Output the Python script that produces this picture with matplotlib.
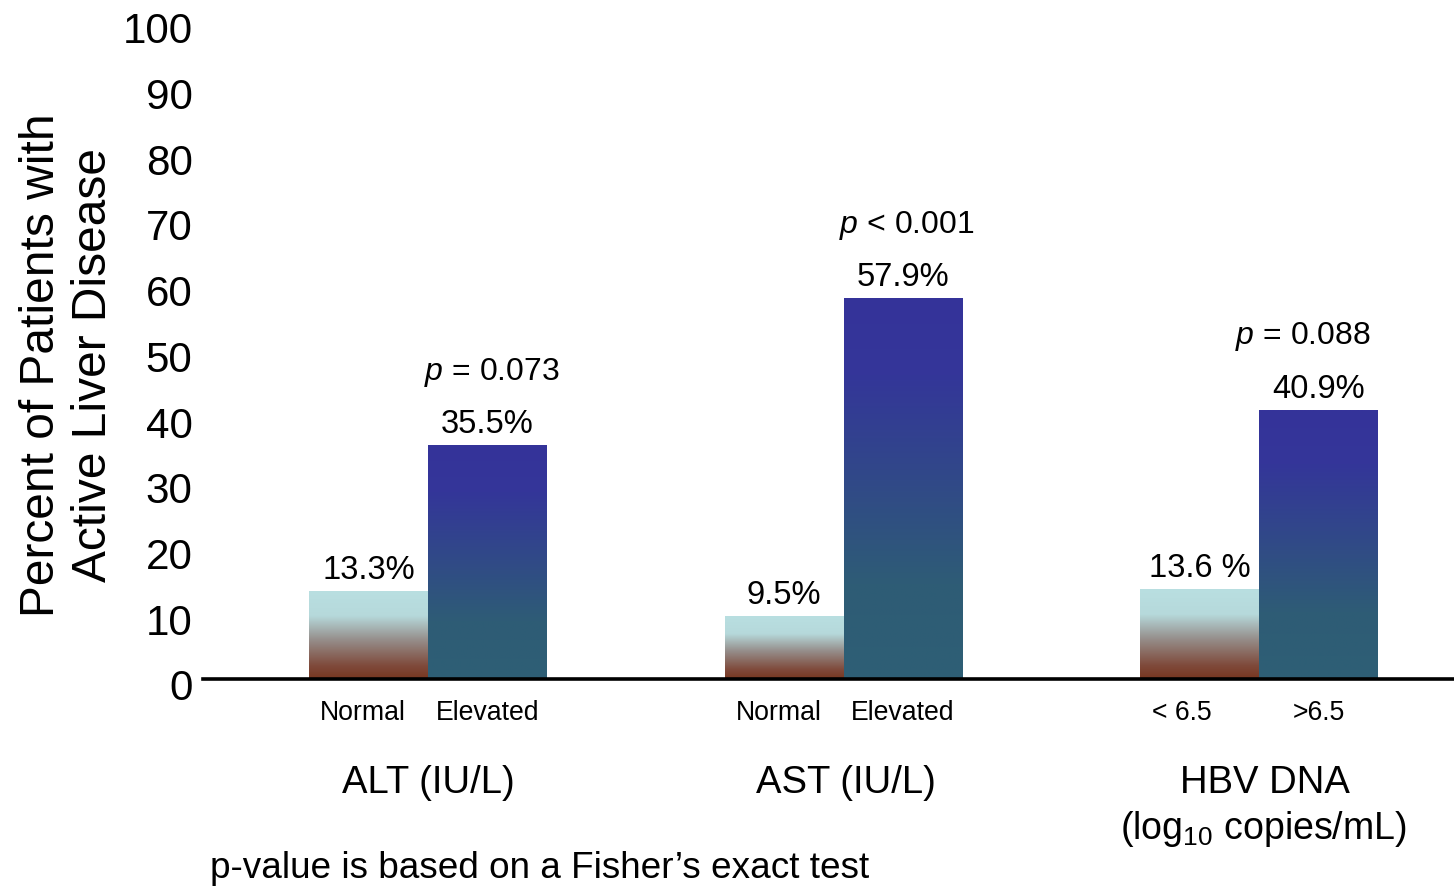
import numpy as np
import matplotlib

matplotlib.use("Agg")
import matplotlib.pyplot as plt
from matplotlib.colors import LinearSegmentedColormap
from matplotlib.transforms import ScaledTranslation

# --------------------------------------------------------------------------- #
# Data
# --------------------------------------------------------------------------- #
groups = ["ALT (IU/L)", "AST (IU/L)", "HBV DNA"]
group_sub = ["", "", "(log$_{10}$ copies/mL)"]
low_labels = ["Normal", "Normal", "< 6.5"]
high_labels = ["Elevated", "Elevated", ">6.5"]
low_pct = [13.3, 9.5, 13.6]
high_pct = [35.5, 57.9, 40.9]
low_sep = ["", "", " "]          # the HBV label is printed as "13.6 %"
p_values = ["= 0.073", "< 0.001", "= 0.088"]
yticks = list(range(0, 101, 10))

plt.rcParams["font.family"] = ["Liberation Sans", "DejaVu Sans"]
plt.rcParams["mathtext.fontset"] = "custom"
plt.rcParams["mathtext.rm"] = "Liberation Sans"
plt.rcParams["mathtext.it"] = "Liberation Sans:italic"

low_cmap = LinearSegmentedColormap.from_list(
    "low", [(0.0, "#773620"), (0.15, "#7f4a3b"), (0.45, "#968f8c"),
            (0.72, "#b6d9db"), (1.0, "#b9dfe1")])
high_cmap = LinearSegmentedColormap.from_list(
    "high", [(0.0, "#2e5f75"), (0.25, "#2e5c76"), (0.55, "#31478a"),
             (0.8, "#343699"), (1.0, "#35339a")])

# small horizontal nudges (points) for a few labels
low_tick_dx = [-4, -4, -13]
p_dx = [3, 3, -11]
group_dx = [0, 2, 4]


def gradient_fill(ax, rect, cmap):
    """Paint a vertical gradient inside the footprint of a bar."""
    x0, y0 = rect.get_x(), rect.get_y()
    x1, y1 = x0 + rect.get_width(), y0 + rect.get_height()
    grad = np.linspace(0, 1, 256).reshape(-1, 1)
    ax.imshow(grad, extent=[x0, x1, y0, y1], origin="lower", aspect="auto",
              cmap=cmap, interpolation="bilinear", zorder=2)


fig = plt.figure(figsize=(14.54, 8.88), dpi=100)
ax = fig.add_axes([0.1396, 0.2348, 0.8604, 0.7404])

x = np.arange(len(groups))
w = 0.286
low_bars = ax.bar(x - w / 2, low_pct, w, color="none", zorder=1)
high_bars = ax.bar(x + w / 2, high_pct, w, color="none", zorder=1)
for r in low_bars:
    gradient_fill(ax, r, low_cmap)
for r in high_bars:
    gradient_fill(ax, r, high_cmap)

# value labels, p-values and category names
for i in range(len(groups)):
    ax.annotate(f"{low_pct[i]}{low_sep[i]}%", (x[i] - w / 2, low_pct[i]),
                xytext=(0, 15.5), textcoords="offset points",
                ha="center", va="center", fontsize=23.5)
    ax.annotate(f"{high_pct[i]}%", (x[i] + w / 2, high_pct[i]),
                xytext=(0, 15.5), textcoords="offset points",
                ha="center", va="center", fontsize=23.5)
    ax.annotate(f"$p$ {p_values[i]}", (x[i] + w / 2, high_pct[i]),
                xytext=(p_dx[i], 53), textcoords="offset points",
                ha="center", va="center", fontsize=23)
    ax.annotate(low_labels[i], (x[i] - w / 2, 0),
                xytext=(low_tick_dx[i], -24), textcoords="offset points",
                ha="center", va="center", fontsize=19.2)
    ax.annotate(high_labels[i], (x[i] + w / 2, 0),
                xytext=(0, -24), textcoords="offset points",
                ha="center", va="center", fontsize=19.2)

ax.set_xlim(-0.5415, 2.469)
ax.set_ylim(0, 100)
ax.set_yticks(yticks)
ax.tick_params(axis="y", length=0, pad=7.5, labelsize=30.3)
# tick numbers sit slightly below their gridline positions
shift = ScaledTranslation(0, -5.5 / 100, fig.dpi_scale_trans)
for lab in ax.get_yticklabels():
    lab.set_transform(lab.get_transform() + shift)
ax.set_xticks([])

for side in ("top", "right", "left"):
    ax.spines[side].set_visible(False)
ax.spines["bottom"].set_linewidth(2.6)
ax.spines["bottom"].set_zorder(5)

# group captions under the category labels
for i, g in enumerate(groups):
    ax.annotate(g, (x[i], 0), xytext=(group_dx[i], -74.5),
                textcoords="offset points", ha="center", va="center",
                fontsize=27.5)
    if group_sub[i]:
        ax.annotate(group_sub[i], (x[i], 0), xytext=(3, -108),
                    textcoords="offset points", ha="center", va="center",
                    fontsize=27)

fig.text(68 / 1454, 1 - 365 / 888, "Percent of Patients with\nActive Liver Disease",
         rotation=90, ha="center", va="center", fontsize=34.5, linespacing=1.2)
fig.text(210 / 1454, 1 - 868 / 888, "p-value is based on a Fisher\u2019s exact test",
         ha="left", va="center", fontsize=26.6)

fig.savefig("out.png", dpi=100)
